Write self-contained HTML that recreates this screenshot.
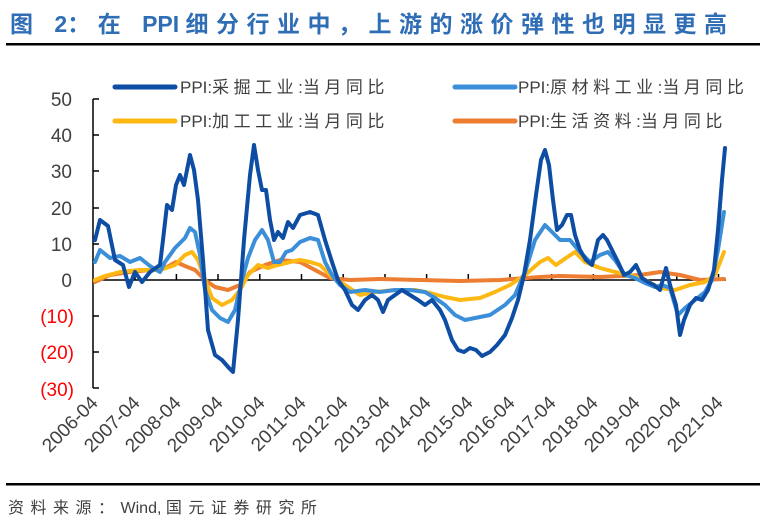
<!DOCTYPE html>
<html><head><meta charset="utf-8"><style>
body{margin:0;background:#fff;width:764px;height:523px;overflow:hidden}
svg{display:block}
</style></head><body>
<svg width="764" height="523" viewBox="0 0 764 523" xmlns="http://www.w3.org/2000/svg">
<text x="10" y="32" font-family="Liberation Sans, Noto Sans CJK SC, sans-serif" font-size="23" font-weight="bold" fill="#2F6DB5" letter-spacing="7.5">图 <tspan letter-spacing="0">2</tspan>：在 <tspan letter-spacing="0">PPI </tspan>细分行业中，上游的涨价弹性也明显更高</text>
<rect x="6" y="43" width="754" height="2.5" fill="#000"/>
<g font-family="Liberation Sans, Noto Sans CJK SC, sans-serif" font-size="17" fill="#404040" letter-spacing="4.5">
<line x1="115" y1="87" x2="175" y2="87" stroke="#0E4DA4" stroke-width="5" stroke-linecap="round"/>
<text x="180" y="93"><tspan letter-spacing="0">PPI:</tspan>采掘工业<tspan letter-spacing="0">:</tspan>当月同比</text>
<line x1="455" y1="87" x2="515" y2="87" stroke="#3B8FD9" stroke-width="5" stroke-linecap="round"/>
<text x="518" y="93"><tspan letter-spacing="0">PPI:</tspan>原材料工业<tspan letter-spacing="0">:</tspan>当月同比</text>
<line x1="115" y1="121" x2="175" y2="121" stroke="#FDB813" stroke-width="5" stroke-linecap="round"/>
<text x="180" y="127"><tspan letter-spacing="0">PPI:</tspan>加工工业<tspan letter-spacing="0">:</tspan>当月同比</text>
<line x1="455" y1="121" x2="515" y2="121" stroke="#ED7D31" stroke-width="5" stroke-linecap="round"/>
<text x="518" y="127"><tspan letter-spacing="0">PPI:</tspan>生活资料<tspan letter-spacing="0">:</tspan>当月同比</text>
</g>
<g font-family="Liberation Sans, sans-serif" font-size="19" text-anchor="end">
<text x="72" y="106" fill="#404040">50</text>
<text x="72" y="142" fill="#404040">40</text>
<text x="72" y="178" fill="#404040">30</text>
<text x="72" y="215" fill="#404040">20</text>
<text x="72" y="251" fill="#404040">10</text>
<text x="72" y="287" fill="#404040">0</text>
<text x="74" y="323" fill="#FF0000">(10)</text>
<text x="74" y="359" fill="#FF0000">(20)</text>
<text x="74" y="396" fill="#FF0000">(30)</text>
</g>
<g stroke="#000" stroke-width="1.5" fill="none">
<line x1="93" y1="99" x2="93" y2="388"/>
<line x1="93" y1="99" x2="99" y2="99"/><line x1="93" y1="135" x2="99" y2="135"/><line x1="93" y1="171" x2="99" y2="171"/><line x1="93" y1="208" x2="99" y2="208"/><line x1="93" y1="244" x2="99" y2="244"/><line x1="93" y1="316" x2="99" y2="316"/><line x1="93" y1="352" x2="99" y2="352"/><line x1="93" y1="388" x2="99" y2="388"/>
<line x1="93" y1="280" x2="726" y2="280"/>
<path d="M135 280v-6M176.4 280v-6M218 280v-6M259.8 280v-6M301.5 280v-6M343.2 280v-6M385 280v-6M426.6 280v-6M468.3 280v-6M510 280v-6M551.7 280v-6M593.4 280v-6M635 280v-6M676.8 280v-6M718.5 280v-6"/>
</g>
<g font-family="Liberation Sans, sans-serif" font-size="19" fill="#404040" text-anchor="end">
<text transform="translate(99,404) rotate(-45)">2006-04</text>
<text transform="translate(141,404) rotate(-45)">2007-04</text>
<text transform="translate(182,404) rotate(-45)">2008-04</text>
<text transform="translate(224,404) rotate(-45)">2009-04</text>
<text transform="translate(266,404) rotate(-45)">2010-04</text>
<text transform="translate(307,404) rotate(-45)">2011-04</text>
<text transform="translate(349,404) rotate(-45)">2012-04</text>
<text transform="translate(391,404) rotate(-45)">2013-04</text>
<text transform="translate(432,404) rotate(-45)">2014-04</text>
<text transform="translate(474,404) rotate(-45)">2015-04</text>
<text transform="translate(516,404) rotate(-45)">2016-04</text>
<text transform="translate(557,404) rotate(-45)">2017-04</text>
<text transform="translate(599,404) rotate(-45)">2018-04</text>
<text transform="translate(641,404) rotate(-45)">2019-04</text>
<text transform="translate(682,404) rotate(-45)">2020-04</text>
<text transform="translate(724,404) rotate(-45)">2021-04</text>
</g>
<g fill="none" stroke-width="4" stroke-linejoin="round" stroke-linecap="round">
<polyline stroke="#ED7D31" points="95,282 110,275 130,272 150,270 165,268 176,262 185,266 195,270 205,280 215,287 228,290 240,285 250,272 265,265 280,260 300,262 315,270 330,278 350,280 380,279 420,280 460,281 500,280 540,277 560,276 600,277 640,275 660,272 680,275 700,280 724,279"/>
<polyline stroke="#FDB813" points="95,280 105,276 120,272 140,270 160,270 175,265 185,255 192,252 198,260 205,280 212,298 222,305 232,300 240,290 248,275 258,265 268,268 278,265 290,262 300,260 310,262 320,265 330,275 345,285 360,295 375,292 395,290 415,290 430,293 445,297 460,300 480,298 495,292 510,285 525,275 540,262 548,258 556,265 566,258 575,252 585,262 600,268 615,272 630,275 645,280 660,288 675,290 690,285 705,282 715,275 724,252"/>
<polyline stroke="#3B8FD9" points="95,262 100,250 110,258 120,256 130,262 140,258 150,266 160,272 165,262 175,248 185,238 190,228 195,232 200,255 205,290 212,310 220,318 228,322 235,310 242,280 248,258 255,240 262,230 268,240 274,262 280,262 286,252 292,250 300,242 310,238 318,240 325,262 332,275 340,285 350,292 365,290 380,292 395,290 410,290 425,292 435,298 445,305 455,315 465,320 475,318 490,315 505,305 515,295 525,272 535,240 545,225 552,232 560,240 570,240 580,252 590,262 600,255 608,252 615,260 625,275 635,278 645,283 655,287 662,285 670,288 678,315 685,308 695,300 705,292 712,280 718,250 724,212"/>
<polyline stroke="#0E4DA4" points="95,240 100,220 108,226 115,260 123,265 129,287 135,272 142,282 150,272 160,265 163,240 167,205 172,210 176,185 180,175 184,185 190,155 194,170 198,200 203,260 208,330 215,355 222,360 229,368 233,372 238,320 244,240 250,175 254,145 258,170 262,190 266,190 270,220 274,240 278,232 283,238 288,222 293,228 300,215 310,212 318,215 325,240 332,262 338,280 345,290 352,305 358,310 365,300 372,295 378,300 383,312 388,300 395,295 402,290 410,295 418,300 425,305 432,300 440,310 445,320 452,340 458,350 464,352 470,348 476,350 482,356 490,352 497,345 505,335 512,318 518,300 524,275 530,240 536,195 541,160 545,150 549,165 553,200 557,230 562,225 567,215 571,215 575,235 580,250 586,260 592,265 598,240 603,235 607,240 612,250 618,262 624,275 630,272 636,265 642,278 648,282 654,285 660,290 666,268 670,285 676,305 680,335 684,320 690,305 696,298 702,300 708,290 714,270 718,230 722,180 725,148"/>
</g>
<rect x="6" y="483" width="754" height="2.5" fill="#000"/>
<text x="8" y="513" font-family="Liberation Sans, Noto Sans CJK SC, sans-serif" font-size="16" fill="#404040" letter-spacing="6.5">资料来源：<tspan letter-spacing="0">Wind, </tspan>国元证券研究所</text>
</svg>
</body></html>
